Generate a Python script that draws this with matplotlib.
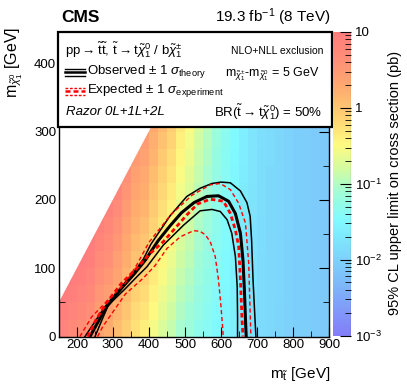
import numpy as np
import matplotlib
matplotlib.use('Agg')
import matplotlib.pyplot as plt
from matplotlib.colors import LinearSegmentedColormap, LogNorm
from matplotlib.lines import Line2D
from matplotlib.patches import Rectangle, Polygon
from matplotlib.ticker import FixedLocator, MultipleLocator, NullFormatter

plt.rcParams['font.family'] = ['Liberation Sans', 'DejaVu Sans']
plt.rcParams['mathtext.fontset'] = 'custom'
plt.rcParams['mathtext.rm'] = 'Liberation Sans'
plt.rcParams['mathtext.it'] = 'Liberation Sans:italic'
plt.rcParams['mathtext.bf'] = 'Liberation Sans:bold'

nan = np.nan

# log10 of the 95% CL upper limit (pb), one list per 25 GeV row of m_chi,
# one entry per 25 GeV bin of m_stop from 150 to 900
lim_y000 = [0.85, 0.75, 0.65, 0.55, 0.35, 0.25, 0.09, -0.08, -0.26, -0.36, -0.56, -0.74, -0.89, -1.07, -1.17,
            -1.30, -1.38, -1.47, -1.54, -1.63, -1.72, -1.80, -1.88, -1.92, -1.96, -2.00, -2.04, -2.06, -2.08, -2.10]
lim_y025 = [0.95, 0.85, 0.75, 0.65, 0.44, 0.34, 0.18, 0.00, -0.19, -0.29, -0.49, -0.67, -0.82, -1.01, -1.12,
            -1.25, -1.35, -1.44, -1.52, -1.62, -1.71, -1.79, -1.87, -1.92, -1.96, -2.00, -2.04, -2.06, -2.08, -2.10]
lim_y050 = [1.05, 0.95, 0.85, 0.75, 0.54, 0.43, 0.26, 0.08, -0.11, -0.21, -0.42, -0.60, -0.75, -0.94, -1.06,
            -1.21, -1.31, -1.42, -1.51, -1.61, -1.70, -1.79, -1.87, -1.91, -1.95, -1.99, -2.04, -2.06, -2.08, -2.10]
lim_y075 = [nan, 1.05, 0.95, 0.85, 0.63, 0.52, 0.35, 0.16, -0.04, -0.14, -0.35, -0.53, -0.68, -0.88, -1.01,
            -1.16, -1.28, -1.39, -1.49, -1.60, -1.69, -1.78, -1.86, -1.91, -1.95, -1.99, -2.04, -2.06, -2.08, -2.10]
lim_y100 = [nan, nan, 1.05, 0.95, 0.73, 0.61, 0.43, 0.24, 0.04, -0.06, -0.27, -0.46, -0.62, -0.82, -0.95,
            -1.12, -1.24, -1.37, -1.47, -1.58, -1.69, -1.78, -1.86, -1.91, -1.95, -1.99, -2.04, -2.06, -2.08, -2.10]
lim_y125 = [nan, nan, nan, 1.05, 0.82, 0.70, 0.52, 0.32, 0.11, 0.01, -0.20, -0.39, -0.55, -0.76, -0.90,
            -1.07, -1.21, -1.34, -1.45, -1.57, -1.68, -1.77, -1.85, -1.91, -1.95, -1.99, -2.04, -2.06, -2.08, -2.10]
lim_y150 = [nan, nan, nan, nan, 0.92, 0.79, 0.60, 0.40, 0.19, 0.09, -0.13, -0.32, -0.48, -0.69, -0.84,
            -1.03, -1.17, -1.32, -1.44, -1.56, -1.67, -1.77, -1.85, -1.90, -1.94, -1.98, -2.04, -2.06, -2.08, -2.10]
lim_y175 = [nan, nan, nan, nan, nan, 0.88, 0.69, 0.48, 0.26, 0.16, -0.06, -0.25, -0.41, -0.63, -0.79,
            -0.98, -1.14, -1.29, -1.42, -1.55, -1.66, -1.76, -1.84, -1.90, -1.94, -1.98, -2.04, -2.06, -2.08, -2.10]
lim_y200 = [nan, nan, nan, nan, nan, nan, 0.77, 0.56, 0.34, 0.24, 0.02, -0.18, -0.35, -0.57, -0.73,
            -0.94, -1.10, -1.27, -1.40, -1.53, -1.66, -1.76, -1.84, -1.90, -1.94, -1.98, -2.04, -2.06, -2.08, -2.10]
lim_y225 = [nan, nan, nan, nan, nan, nan, nan, 0.64, 0.41, 0.31, 0.09, -0.11, -0.28, -0.51, -0.68,
            -0.89, -1.07, -1.24, -1.38, -1.52, -1.65, -1.75, -1.83, -1.90, -1.94, -1.98, -2.04, -2.06, -2.08, -2.10]
lim_y250 = [nan, nan, nan, nan, nan, nan, nan, nan, 0.49, 0.39, 0.16, -0.04, -0.21, -0.44, -0.62,
            -0.85, -1.03, -1.22, -1.37, -1.51, -1.64, -1.75, -1.83, -1.89, -1.93, -1.97, -2.04, -2.06, -2.08, -2.10]
lim_y275 = [nan, nan, nan, nan, nan, nan, nan, nan, nan, 0.46, 0.23, 0.04, -0.14, -0.38, -0.57,
            -0.80, -1.00, -1.19, -1.35, -1.50, -1.63, -1.74, -1.82, -1.89, -1.93, -1.97, -2.04, -2.06, -2.08, -2.10]
lim_y300 = [nan, nan, nan, nan, nan, nan, nan, nan, nan, nan, 0.31, 0.11, -0.08, -0.32, -0.51,
            -0.76, -0.96, -1.17, -1.33, -1.48, -1.63, -1.74, -1.82, -1.89, -1.93, -1.97, -2.04, -2.06, -2.08, -2.10]

# exclusion contours (m_stop, m_chi) in GeV
obs_x = [236, 259, 283, 324, 361, 390, 425, 460, 490, 525, 561, 593, 621, 640, 654, 661, 665, 668, 670]
obs_y = [0, 22, 44, 71, 93, 112, 140, 163, 181, 196, 205, 206, 198, 180, 151, 112, 68, 25, 0]
obs_up_x = [222, 250, 278, 315, 355, 385, 405, 459, 505, 542, 575, 600, 626, 654, 672, 681, 685, 689, 694, 697]
obs_up_y = [0, 22, 44, 68, 92, 114, 135, 177, 205, 217, 224, 226, 225, 213, 196, 176, 141, 83, 30, 0]
obs_dn_x = [250, 269, 287, 334, 371, 394, 440, 496, 542, 575, 598, 617, 630, 640, 645, 646, 646]
obs_dn_y = [0, 24, 46, 70, 90, 102, 134, 163, 184, 186, 183, 171, 151, 117, 73, 30, 0]
exp_x = [230, 253, 283, 322, 366, 400, 440, 505, 535, 570, 607, 626, 640, 649, 654, 658, 661]
exp_y = [0, 25, 50, 77, 100, 120, 139, 178, 194, 201, 198, 180, 156, 132, 83, 30, 0]
exp_up_x = [208, 241, 287, 334, 366, 400, 460, 520, 570, 598, 626, 649, 668, 677, 681, 683]
exp_up_y = [0, 29, 54, 78, 105, 138, 178, 207, 222, 224, 215, 195, 166, 107, 34, 0]
exp_dn_x = [257, 272, 297, 334, 385, 417, 450, 487, 524, 542, 556, 570, 584, 593, 600, 605, 606]
exp_dn_y = [0, 15, 34, 62, 86, 104, 129, 146, 155, 154, 149, 139, 117, 83, 44, 10, 0]

W, H = 407, 391


def fx(px):
    return px / W


def fy(py):
    return 1 - py / H


cmap = LinearSegmentedColormap.from_list('lim', [
    (0.00, (130/255, 125/255, 250/255)),
    (0.10, (128/255, 160/255, 250/255)),
    (0.20, (125/255, 195/255, 250/255)),
    (0.30, (125/255, 225/255, 252/255)),
    (0.38, (128/255, 250/255, 255/255)),
    (0.47, (160/255, 252/255, 215/255)),
    (0.55, (210/255, 252/255, 160/255)),
    (0.63, (255/255, 250/255, 128/255)),
    (0.72, (255/255, 210/255, 115/255)),
    (0.82, (255/255, 170/255, 110/255)),
    (0.92, (255/255, 140/255, 120/255)),
    (1.00, (255/255, 125/255, 125/255)),
])

fig = plt.figure(figsize=(W / 100, H / 100), dpi=100)
ax = fig.add_axes([fx(59), fy(336.6), fx(329) - fx(59), fy(31.7) - fy(336.6)])

rows = [lim_y000, lim_y025, lim_y050, lim_y075, lim_y100, lim_y125, lim_y150,
        lim_y175, lim_y200, lim_y225, lim_y250, lim_y275, lim_y300]
z = 10 ** np.array(rows)
z = np.clip(z, 1e-3, 10)
x_edges = np.arange(150, 901, 25)
y_edges = np.arange(0, 326, 25)
mesh = ax.pcolormesh(x_edges, y_edges, np.ma.masked_invalid(z), cmap=cmap,
                     norm=LogNorm(1e-3, 10), zorder=1)

# kinematically forbidden region
ax.add_patch(Polygon([(150, 50), (150, 470), (570, 470)], closed=True,
                     facecolor='white', edgecolor='none', zorder=2))

ax.plot(obs_up_x, obs_up_y, color='black', lw=1.1, zorder=3)
ax.plot(obs_dn_x, obs_dn_y, color='black', lw=1.1, zorder=3)
ax.plot(obs_x, obs_y, color='black', lw=2.2, zorder=3)
ax.plot(exp_up_x, exp_up_y, color='red', lw=1.0, ls=(0, (3, 2)), zorder=4)
ax.plot(exp_dn_x, exp_dn_y, color='red', lw=1.0, ls=(0, (3, 2)), zorder=4)
ax.plot(exp_x, exp_y, color='red', lw=2.0, ls=(0, (1.6, 1.1)), zorder=4)

ax.set_xlim(150, 900)
ax.set_ylim(0, 446)
ax.xaxis.set_major_locator(FixedLocator([200, 300, 400, 500, 600, 700, 800, 900]))
ax.xaxis.set_minor_locator(MultipleLocator(50))
ax.yaxis.set_major_locator(FixedLocator([0, 100, 200, 300, 400]))
ax.yaxis.set_minor_locator(MultipleLocator(50))
ax.tick_params(which='both', direction='in', top=True, right=True, labelsize=9.5, pad=2)
ax.tick_params(which='major', length=7)
ax.tick_params(which='minor', length=4)
for s in ax.spines.values():
    s.set_linewidth(1.0)

# legend box
ax.add_patch(Rectangle((-0.005, 307 / 446), 1.017, 1 - 307 / 446, transform=ax.transAxes,
                       facecolor='white', edgecolor='black', lw=1.6, zorder=10, clip_on=False))

fig.text(fx(61), fy(17), 'CMS', fontsize=12.5, fontweight='bold', va='center', ha='left')
fig.text(fx(331), fy(17), r'19.3 fb$^{-1}$ (8 TeV)', fontsize=11, va='center', ha='right')

fig.text(fx(65), fy(50), r'pp$\rightarrow\mathrm{\tilde{t}\tilde{t}}$, $\mathrm{\tilde{t}}\rightarrow\mathrm{t}\tilde{\chi}^{0}_{1}$ / $\mathrm{b}\tilde{\chi}^{\pm}_{1}$',
         fontsize=9.5, va='center', ha='left')
fig.text(fx(323), fy(51), 'NLO+NLL exclusion', fontsize=7.5, va='center', ha='right')

for dy, lw in [(-3.5, 1.0), (0, 1.8), (3.5, 1.0)]:
    fig.add_artist(Line2D([fx(65), fx(85)], [fy(72 + dy), fy(72 + dy)], color='black', lw=lw))
    fig.add_artist(Line2D([fx(65), fx(85)], [fy(91 + dy), fy(91 + dy)], color='red', lw=lw,
                          ls=(0, (2, 1.2))))
fig.text(fx(87), fy(72), r'Observed $\pm$ 1 $\sigma_{\mathrm{theory}}$', fontsize=9.5, va='center', ha='left')
fig.text(fx(87), fy(91), r'Expected $\pm$ 1 $\sigma_{\mathrm{experiment}}$', fontsize=9.5, va='center', ha='left')
fig.text(fx(320), fy(74), r'm$_{\tilde{\chi}^{\pm}_{1}}$-m$_{\tilde{\chi}^{0}_{1}}$ = 5 GeV', fontsize=9,
         va='center', ha='right')
fig.text(fx(66), fy(112), 'Razor 0L+1L+2L', fontsize=9.5, style='italic', va='center', ha='left')
fig.text(fx(322), fy(112), r'BR($\mathrm{\tilde{t}}\rightarrow\mathrm{t}\tilde{\chi}^{0}_{1}$) = 50%', fontsize=9.5,
         va='center', ha='right')

# axis titles
fig.text(fx(14), fy(27), r'm$_{\tilde{\chi}^{0}_{1}}$ [GeV]', fontsize=11.5, rotation=90, va='top', ha='center')
fig.text(fx(330), fy(374), r'm$_{\mathrm{\tilde{t}}}$ [GeV]', fontsize=11, va='center', ha='right')

# colour scale
cax = fig.add_axes([fx(333), fy(335.5), fx(351) - fx(333), fy(32) - fy(335.5)])
cb = fig.colorbar(mesh, cax=cax)
cb.outline.set_visible(False)
cax.add_artist(Line2D([1, 1], [0, 1], transform=cax.transAxes, color='#333333', lw=0.8))
cb.set_ticks([1e-3, 1e-2, 1e-1, 1, 10])
cb.set_ticklabels([r'$10^{-3}$', r'$10^{-2}$', r'$10^{-1}$', '1', '10'])
cax.yaxis.set_minor_formatter(NullFormatter())
cax.tick_params(which='both', direction='in', right=True, left=False, labelsize=9.5, pad=3)
cax.tick_params(which='major', length=8)
cax.tick_params(which='minor', length=4)
fig.text(fx(395), fy(183), '95% CL upper limit on cross section (pb)', fontsize=10.5, rotation=90,
         va='center', ha='center')

fig.savefig('out.png', dpi=100)
